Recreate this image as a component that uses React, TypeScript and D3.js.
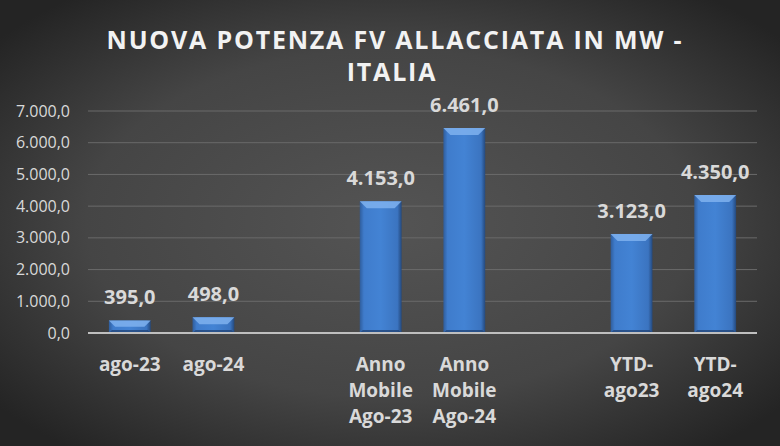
import React from 'react';
import * as d3 from 'd3';

const categories: string[][] = [
  ['ago-23'],
  ['ago-24'],
  [],
  ['Anno', 'Mobile', 'Ago-23'],
  ['Anno', 'Mobile', 'Ago-24'],
  [],
  ['YTD-', 'ago23'],
  ['YTD-', 'ago24'],
];
const values: (number | null)[] = [395, 498, null, 4153, 6461, null, 3123, 4350];
const yTicks = [0, 1000, 2000, 3000, 4000, 5000, 6000, 7000];

const W = 780;
const H = 446;
const margin = { top: 111, right: 23, bottom: 113, left: 88 };

const fmt = (v: number) => {
  const s = d3.format(',.1f')(v);
  return s.replace(/,/g, '#').replace('.', ',').replace(/#/g, '.');
};

const App: React.FC = () => {
  const innerW = W - margin.left - margin.right;
  const innerH = H - margin.top - margin.bottom;

  const x = d3.scaleBand<number>()
    .domain(categories.map((_, i) => i))
    .range([0, innerW])
    .paddingInner(0.5)
    .paddingOuter(0.25);
  const y = d3.scaleLinear().domain([0, 7000]).range([innerH, 0]);

  const font = 'Open Sans, Noto Sans, sans-serif';
  const txt = '#d9d9d9';

  return (
    <svg width={W} height={H} style={{ display: 'block', position: 'absolute', left: 0, top: 0 }}>
      <defs>
        <radialGradient id="bg" cx="50%" cy="50%" r="65%">
          <stop offset="0%" stopColor="#545454" />
          <stop offset="60%" stopColor="#454545" />
          <stop offset="100%" stopColor="#242424" />
        </radialGradient>
        <linearGradient id="bar" x1="0" y1="0" x2="1" y2="0">
          <stop offset="0%" stopColor="#2f5d9c" />
          <stop offset="10%" stopColor="#3f7ccc" />
          <stop offset="50%" stopColor="#4383d4" />
          <stop offset="90%" stopColor="#3b74c0" />
          <stop offset="100%" stopColor="#24497d" />
        </linearGradient>
      </defs>
      <rect width={W} height={H} fill="url(#bg)" />
      <text x={395} y={49} textAnchor="middle" fill="#f2f2f2" fontFamily={font}
        fontWeight="bold" fontSize={25} letterSpacing={1.8}>
        NUOVA POTENZA FV ALLACCIATA IN MW -
      </text>
      <text x={392} y={81} textAnchor="middle" fill="#f2f2f2" fontFamily={font}
        fontWeight="bold" fontSize={25} letterSpacing={1.8}>
        ITALIA
      </text>
      <g transform={`translate(${margin.left},${margin.top})`}>
        {yTicks.map(t => (
          <g key={t}>
            {t > 0 && <line x1={0} x2={innerW} y1={y(t)} y2={y(t)} stroke="#6a6a6a" strokeWidth={1} />}
            <text x={-18} y={y(t)} dy="0.35em" textAnchor="end" fill={txt}
              fontFamily={font} fontSize={16}>{fmt(t)}</text>
          </g>
        ))}
        {values.map((v, i) => {
          if (v == null) return null;
          const bx = x(i)!;
          const bw = x.bandwidth();
          const top = y(v);
          const h = innerH - top;
          const bev = Math.min(7, h / 2);
          return (
            <g key={i}>
              <rect x={bx} y={top} width={bw} height={h} fill="url(#bar)" />
              <polygon
                points={`${bx},${top} ${bx + bw},${top} ${bx + bw - bev},${top + bev} ${bx + bev},${top + bev}`}
                fill="#7fb2ee" opacity={0.85} />
              <polygon
                points={`${bx},${innerH} ${bx + bw},${innerH} ${bx + bw - 3},${innerH - 3} ${bx + 3},${innerH - 3}`}
                fill="#1f3f6e" opacity={0.7} />
              <text x={bx + bw / 2} y={top - 16} textAnchor="middle" fill={txt}
                fontFamily={font} fontWeight="bold" fontSize={20}>{fmt(v)}</text>
            </g>
          );
        })}
        <line x1={0} x2={innerW} y1={innerH} y2={innerH} stroke="#bfbfbf" strokeWidth={2} />
        {categories.map((lines, i) => (
          <text key={i} x={x(i)! + x.bandwidth() / 2} y={innerH + 38} textAnchor="middle"
            fill={txt} fontFamily={font} fontWeight="bold" fontSize={19}>
            {lines.map((l, j) => (
              <tspan key={j} x={x(i)! + x.bandwidth() / 2} dy={j === 0 ? 0 : 26}>{l}</tspan>
            ))}
          </text>
        ))}
      </g>
    </svg>
  );
};

export default App;
